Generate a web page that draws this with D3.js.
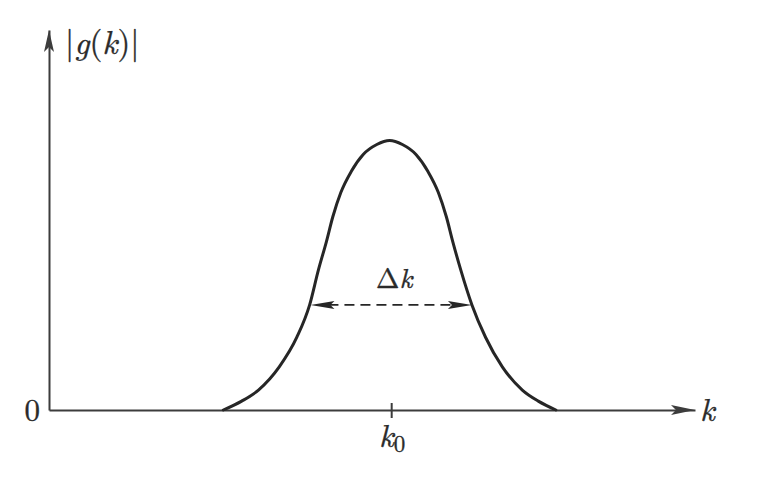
<!DOCTYPE html>
<html>
<head>
<meta charset="utf-8">
<script src="https://cdn.jsdelivr.net/npm/d3@7"></script>
<style>
  html, body { margin: 0; padding: 0; background: #ffffff; }
  svg { display: block; }
</style>
</head>
<body>
<svg id="chart" width="779" height="484"></svg>
<script>
const kValues = [-2.10, -1.87, -1.66, -1.40, -1.18, -1.02, -0.91, -0.81, -0.73, -0.63, -0.50, -0.35, -0.18, -0.02,
                 0.14, 0.31, 0.46, 0.59, 0.69, 0.77, 0.87, 1.01, 1.18, 1.39, 1.64, 1.84, 2.06];
const gValues = [0, 0.033, 0.074, 0.16, 0.27, 0.39, 0.52, 0.625, 0.717, 0.807, 0.885, 0.948, 0.985, 1.0,
                 0.985, 0.948, 0.885, 0.807, 0.717, 0.625, 0.52, 0.39, 0.27, 0.16, 0.074, 0.033, 0];
const kDomain = [-4.28, 3.8];
const gDomain = [0, 1.41];
const k0Tick = [0];
const yTick = [0];
const deltaKEnds = [-1.01, 1.01];
const halfLevel = 0.39;
const labels = { x: "k", k0: "k", k0sub: "0", delta: "Δk" };

// ---- layout ----
const FONT = '"Latin Modern Roman", "Liberation Serif", serif';
const svg = d3.select("#chart");
const x = d3.scaleLinear().domain(kDomain).range([49, 695]);
const y = d3.scaleLinear().domain(gDomain).range([410, 30]);
const axisColor = "#3c3c3c";
const inkColor = "#262626";
const textColor = "#2a2a2a";

function styleText(sel, size) {
  return sel.style("font-family", FONT).style("font-size", size + "px")
    .style("fill", textColor).style("stroke", textColor).style("stroke-width", "0.35px");
}

svg.append("rect").attr("width", 779).attr("height", 484).attr("fill", "#ffffff");

// x axis with one tick at k0
const gx = svg.append("g").attr("transform", `translate(0,${y(0)})`)
  .call(d3.axisBottom(x).tickValues(k0Tick).tickSize(8).tickSizeOuter(0).tickFormat(() => ""));
gx.select(".domain").attr("stroke", axisColor).attr("stroke-width", 2);
gx.selectAll(".tick line").attr("stroke", axisColor).attr("stroke-width", 2).attr("y1", -7).attr("y2", 8);

// y axis with the "0" tick label
const gy = svg.append("g").attr("transform", `translate(${x(kDomain[0])},0)`)
  .call(d3.axisLeft(y).tickValues(yTick).tickSize(0).tickSizeOuter(0).tickPadding(9).tickFormat(d3.format("d")));
gy.select(".domain").attr("stroke", axisColor).attr("stroke-width", 2);
styleText(gy.selectAll(".tick text"), 31).attr("dy", "0.33em");

// arrow heads at the axis ends
const xTip = [x(kDomain[1]), y(0)];
svg.append("path")
  .attr("d", `M${xTip[0]},${xTip[1]} L${xTip[0]-24},${xTip[1]-5} L${xTip[0]-19},${xTip[1]} L${xTip[0]-24},${xTip[1]+5} Z`)
  .attr("fill", axisColor);
const yTip = [x(kDomain[0]), y(gDomain[1])];
svg.append("path")
  .attr("d", `M${yTip[0]},${yTip[1]} L${yTip[0]-5},${yTip[1]+22} L${yTip[0]},${yTip[1]+17} L${yTip[0]+5},${yTip[1]+22} Z`)
  .attr("fill", axisColor);

// the curve
const line = d3.line().x((d, i) => x(kValues[i])).y(d => y(d)).curve(d3.curveMonotoneX);
svg.append("path").datum(gValues).attr("d", line)
  .attr("fill", "none").attr("stroke", inkColor).attr("stroke-width", 3).attr("stroke-linecap", "round");

// dashed Δk marker with arrowheads
const yh = y(halfLevel);
const xl = x(deltaKEnds[0]), xr = x(deltaKEnds[1]);
svg.append("line").attr("x1", xl + 18).attr("x2", xr - 18).attr("y1", yh).attr("y2", yh)
  .attr("stroke", inkColor).attr("stroke-width", 1.6).attr("stroke-dasharray", "10,6");
svg.append("path")
  .attr("d", `M${xl},${yh} L${xl+24},${yh-4} L${xl+20},${yh} L${xl+24},${yh+4} Z`).attr("fill", inkColor);
svg.append("path")
  .attr("d", `M${xr},${yh} L${xr-24},${yh-4} L${xr-20},${yh} L${xr-24},${yh+4} Z`).attr("fill", inkColor);

// Δk label
const dl = styleText(svg.append("text"), 28).attr("x", (xl + xr) / 2 + 3).attr("y", yh - 17)
  .attr("text-anchor", "middle");
dl.append("tspan").text(labels.delta[0]);
dl.append("tspan").style("font-style", "italic").text(labels.delta.slice(1));

// y label |g(k)|
const yl = styleText(svg.append("text"), 33).attr("x", x(kDomain[0]) + 16).attr("y", 54);
yl.append("tspan").text("|");
yl.append("tspan").style("font-style", "italic").text("g");
yl.append("tspan").text("(");
yl.append("tspan").style("font-style", "italic").text("k");
yl.append("tspan").text(")");
yl.append("tspan").text("|");

// x label k
styleText(svg.append("text"), 32).attr("x", x(kDomain[1]) + 5).attr("y", y(0) + 11)
  .style("font-style", "italic").text(labels.x);

// k0 label
const kl = styleText(svg.append("text"), 32).attr("x", x(k0Tick[0]) + 1).attr("y", y(0) + 37)
  .attr("text-anchor", "middle");
kl.append("tspan").style("font-style", "italic").text(labels.k0);
kl.append("tspan").style("font-size", "23px").attr("dy", 5).text(labels.k0sub);
</script>
</body>
</html>
